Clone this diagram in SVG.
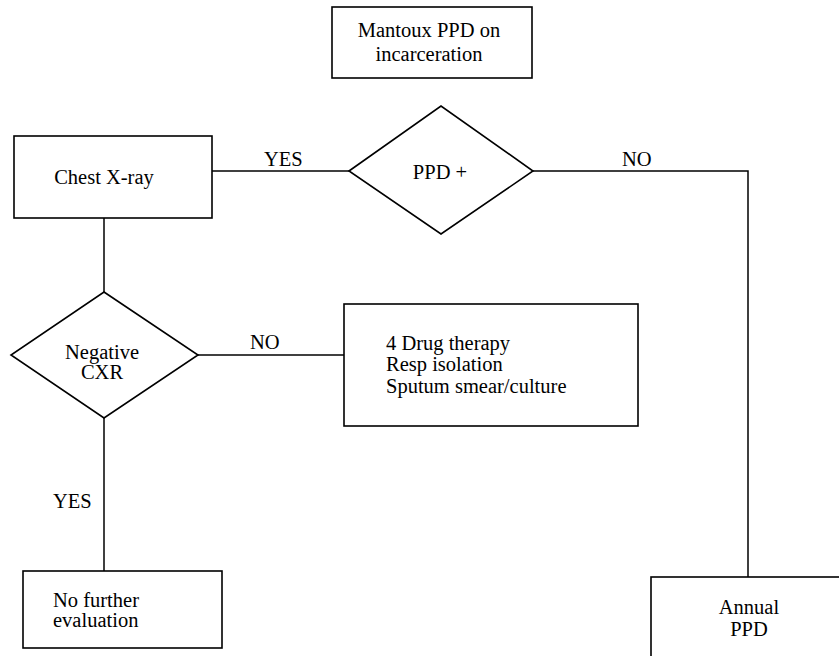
<svg xmlns="http://www.w3.org/2000/svg" width="839" height="656" viewBox="0 0 839 656">
<style>
.box{fill:#fff;stroke:#000;stroke-width:1.6}
.ln{fill:none;stroke:#000;stroke-width:1.5}
text{font-family:"Liberation Serif","Times New Roman",serif;font-size:20.5px;fill:#000}
.c{text-anchor:middle}
</style>
<rect width="839" height="656" fill="#fff"/>
<g id="connectors">
<line class="ln" x1="212" y1="171" x2="349" y2="171"/>
<polyline class="ln" points="533,171 748,171 748,577"/>
<line class="ln" x1="104" y1="218" x2="104" y2="292"/>
<line class="ln" x1="198" y1="355" x2="344" y2="355"/>
<line class="ln" x1="104" y1="418" x2="104" y2="571"/>
<text x="264" y="166">YES</text>
<text x="622" y="166">NO</text>
<text x="250" y="349">NO</text>
<text x="53" y="508">YES</text>
</g>
<g id="mantoux">
<rect class="box" x="332" y="7" width="200" height="71"/>
<text class="c" x="429" y="37">Mantoux PPD on</text>
<text class="c" x="429" y="61">incarceration</text>
</g>
<g id="chest">
<rect class="box" x="14" y="136" width="198" height="82"/>
<text class="c" x="104" y="184">Chest X-ray</text>
</g>
<g id="ppd">
<polygon class="box" points="349,171 441,106 533,171 441,234"/>
<text class="c" x="440" y="179">PPD +</text>
</g>
<g id="negcxr">
<polygon class="box" points="104,292 198,355 104,418 11,355"/>
<text class="c" x="102" y="359">Negative</text>
<text class="c" x="102" y="379">CXR</text>
</g>
<g id="drug">
<rect class="box" x="344" y="304" width="294" height="122"/>
<text x="386" y="350">4 Drug therapy</text>
<text x="386" y="371">Resp isolation</text>
<text x="386" y="393">Sputum smear/culture</text>
</g>
<g id="nofurther">
<rect class="box" x="23" y="571" width="199" height="77"/>
<text x="53" y="607">No further</text>
<text x="53" y="627">evaluation</text>
</g>
<g id="annual">
<rect class="box" x="651" y="577" width="200" height="100"/>
<text class="c" x="749" y="614">Annual</text>
<text class="c" x="749" y="636">PPD</text>
</g>
</svg>
